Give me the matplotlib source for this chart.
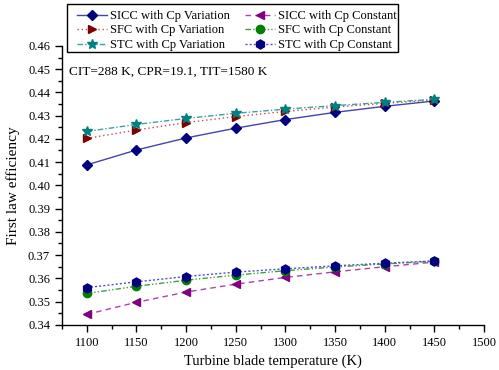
import matplotlib
matplotlib.use("Agg")
import matplotlib.pyplot as plt
from matplotlib.patches import Rectangle
from matplotlib.ticker import MultipleLocator

plt.rcParams['font.family'] = ['Liberation Serif', 'DejaVu Serif']

# turbine blade temperature (K)
tb = [1100, 1150, 1200, 1250, 1300, 1350, 1400, 1450]

# first law efficiency
sicc_var = [0.4088, 0.4152, 0.4204, 0.4246, 0.4283, 0.4314, 0.4340, 0.4363]
sfc_var = [0.4202, 0.4238, 0.4270, 0.4296, 0.4318, 0.4337, 0.4353, 0.4367]
stc_var = [0.4232, 0.4262, 0.4288, 0.4310, 0.4328, 0.4343, 0.4357, 0.4370]
sicc_const = [0.3445, 0.3497, 0.3541, 0.3575, 0.3604, 0.3628, 0.3650, 0.3670]
sfc_const = [0.3535, 0.3566, 0.3592, 0.3614, 0.3633, 0.3649, 0.3662, 0.3674]
stc_const = [0.3560, 0.3585, 0.3608, 0.3627, 0.3641, 0.3654, 0.3665, 0.3675]

W, H = 499, 370
fig = plt.figure(figsize=(W / 100, H / 100), dpi=100)
ax = fig.add_axes([0.124, 0.122, 0.846, 0.754])

ms = 6
h1, = ax.plot(tb, sicc_var, color='#4444aa', lw=1.0, ls='-', marker='D', ms=5.5,
              mfc='#000080', mec='#000080', label='SICC with Cp Variation')
h2, = ax.plot(tb, sfc_var, color='#c05050', lw=1.0, ls=(0, (1, 2)), marker='>', ms=ms,
              mfc='#800000', mec='#800000', label='SFC with Cp Variation')
h3, = ax.plot(tb, stc_var, color='#40a0a0', lw=1.0, ls=(0, (4, 1.5, 1, 1.5)), marker='*', ms=7.5,
              mfc='#008080', mec='#008080', label='STC with Cp Variation')
h4, = ax.plot(tb, sicc_const, color='#b040b0', lw=1.0, ls=(0, (4, 3)), marker='<', ms=ms,
              mfc='#800080', mec='#800080', label='SICC with Cp Constant')
h5, = ax.plot(tb, sfc_const, color='#40a040', lw=1.0, ls=(0, (4, 1.5, 1, 1.5, 1, 1.5)), marker='o', ms=ms,
              mfc='#008000', mec='#008000', label='SFC with Cp Constant')
h6, = ax.plot(tb, stc_const, color='#5050c0', lw=1.0, ls=(0, (1.5, 1.5)), marker='h', ms=6.5,
              mfc='#000080', mec='#000080', label='STC with Cp Constant')

ax.set_xlim(1075, 1500)
ax.set_ylim(0.34, 0.46)
ax.xaxis.set_major_locator(MultipleLocator(50))
ax.xaxis.set_minor_locator(MultipleLocator(25))
ax.yaxis.set_major_locator(MultipleLocator(0.01))
ax.yaxis.set_minor_locator(MultipleLocator(0.005))
ax.yaxis.set_major_formatter(plt.FormatStrFormatter('%.2f'))

for side in ['top', 'right']:
    ax.spines[side].set_visible(False)
for side in ['left', 'bottom']:
    ax.spines[side].set_linewidth(1.0)
ax.tick_params(which='major', direction='out', length=5, width=1.0, labelsize=9)
ax.tick_params(which='minor', direction='out', length=3, width=1.0)

ax.set_xlabel('Turbine blade temperature (K)', fontsize=10.5, labelpad=4)
ax.set_ylabel('First law efficiency', fontsize=11, labelpad=6)

ax.text(1082, 0.449, 'CIT=288 K, CPR=19.1, TIT=1580 K', fontsize=9.5, va='center')

# legend without its own frame, boxed by hand like the original
leg = fig.legend(handles=[h1, h2, h3, h4, h5, h6], ncol=2, loc='upper left',
                 bbox_to_anchor=(77 / W, 1 - 10 / H), fontsize=9, frameon=False,
                 handlelength=2.4, handletextpad=0.25, columnspacing=1.2,
                 labelspacing=0.2, borderpad=0.0, borderaxespad=0.0)
fig.patches.append(Rectangle((67 / W, 1 - 52 / H), (398 - 67) / W, 48 / H,
                             transform=fig.transFigure, fill=False,
                             edgecolor='black', lw=1.0))

fig.savefig('out.png', dpi=100)
